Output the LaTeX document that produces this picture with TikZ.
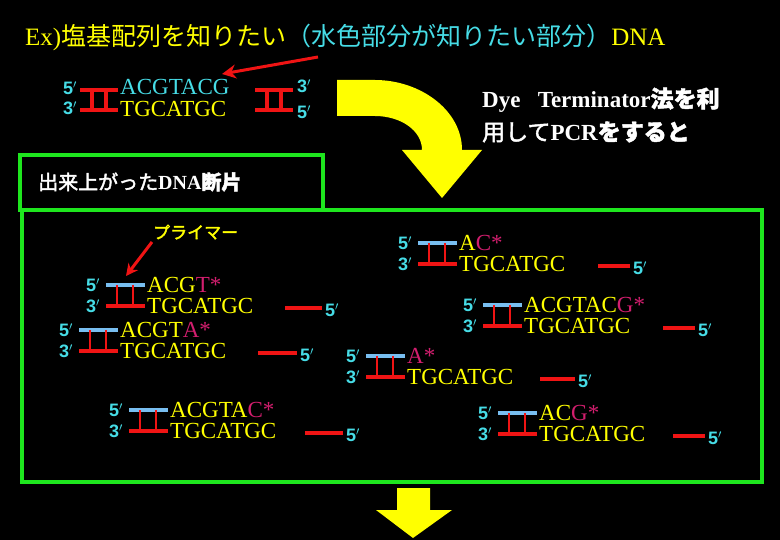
\documentclass[tikz,border=0pt]{standalone}
\usetikzlibrary{arrows.meta}
\usepackage{fontspec}
\setmainfont{Liberation Serif}
\newfontfamily\jp{Noto Sans CJK JP}
\newfontfamily\jpb[FakeBold=2]{Noto Sans CJK JP}
\newfontfamily\lsans{Liberation Sans}
\definecolor{cy}{RGB}{70,220,230}
\definecolor{ye}{RGB}{255,255,0}
\definecolor{rd}{RGB}{240,20,20}
\definecolor{mg}{RGB}{210,30,110}
\definecolor{lb}{RGB}{120,190,240}
\definecolor{gr}{RGB}{30,230,30}
\tikzset{
  prime/.style={text=cy,font=\lsans\bfseries\fontsize{18}{18}\selectfont,inner sep=0pt},
  seq/.style={text=ye,font=\fontsize{23}{23}\selectfont,inner sep=0pt,anchor=west},
  redl/.style={draw=rd,line width=4pt},
  bluel/.style={draw=lb,line width=4pt},
  gbox/.style={draw=gr,line width=4pt},
  jt/.style={font=\jp\fontsize{22}{22}\selectfont,inner sep=0pt,anchor=west},
}
\newcommand\frag[7]{%
\begin{scope}[shift={(#1,#2)}]
  \node[prime] (#7a) at (0,0) {5$'$};
  \node[prime] (#7b) at (0,21) {3$'$};
  \draw[bluel] (13,0) -- (52,0);
  \draw[redl] (13,21) -- (52,21);
  \draw[draw=rd,line width=2.5pt] (24,0) -- (24,21) (40,0) -- (40,21);
  \node[seq] (#7t) at (54,0) {#3\textcolor{mg}{#4*}};
  \node[seq] (#7u) at (54,21) {TGCATGC};
  \draw[redl] ({#5-#1},23) -- ({#6-#1},23);
  \node[prime] (#7c) at ({#6-#1+10},25) {5$'$};
\end{scope}}
\begin{document}
\begin{tikzpicture}[x=1pt,y=-1pt]
\fill[black] (0,0) rectangle (780,540);
\useasboundingbox (0,0) rectangle (780,540);
% title
\node[jt,text=ye] (title) at (25,37) {\fontsize{25}{25}\selectfont\rmfamily Ex)\jp 塩基配列を知りたい\textcolor{cy}{（水色部分が知りたい部分）}\rmfamily DNA};
% top DNA
\node[prime] (t5) at (70,88) {5$'$};
\node[prime] (t3) at (70,108) {3$'$};
\draw[redl] (80,90) -- (118,90) (80,110) -- (118,110) (92,90) -- (92,110) (106,90) -- (106,110);
\node[seq,text=cy] (tt) at (120,87) {ACGTACG};
\node[seq] (tb) at (120,109) {TGCATGC};
\draw[redl] (255,90) -- (293,90) (255,110) -- (293,110) (267,90) -- (267,110) (281,90) -- (281,110);
\node[prime] (r3) at (304,86) {3$'$};
\node[prime] (r5) at (304,112) {5$'$};
\coordinate (ar1) at (318,57);
\draw[rd,line width=3pt,-{Stealth[length=14pt,width=14pt]}] (ar1) -- (222,74);
% curved yellow arrow
\fill[ye] (337,80) -- (375,80) .. controls (420,80) and (462,110) .. (462,150) -- (482,150) -- (442,198) -- (402,150) -- (422,150) .. controls (422,130) and (400,116) .. (375,116) -- (337,116) -- cycle;
% Dye text
\node[jt,text=white,font=\jpb\fontsize{23}{23}\selectfont] (dye1) at (482,100) {\rmfamily\bfseries Dye\ \ \ Terminator\jpb 法を利};
\node[jt,text=white,font=\jpb\fontsize{23}{23}\selectfont] (dye2) at (482,132) {\jpb 用して\rmfamily\bfseries PCR\jpb をすると};
% boxes
\draw[gbox] (20,155) rectangle (323,210);
\node[jt,text=white,font=\jpb\fontsize{20}{20}\selectfont] (lab) at (38,182) {出来上がった\rmfamily\bfseries DNA\jpb 断片};
\draw[gbox] (22,210) rectangle (762,482);
% primer label
\node[jt,text=ye,font=\jpb\fontsize{17}{17}\selectfont] (pl) at (153,232) {プライマー};
\draw[rd,line width=3pt,-{Stealth[length=12pt,width=12pt]}] (152,242) -- (126,276);
% fragments
\frag{93}{285}{ACG}{T}{285}{322}{f1}
\frag{66}{330}{ACGT}{A}{258}{297}{f2}
\frag{116}{410}{ACGTA}{C}{305}{343}{f3}
\frag{405}{243}{A}{C}{598}{630}{f4}
\frag{470}{305}{ACGTAC}{G}{663}{695}{f5}
\frag{353}{356}{}{A}{540}{575}{f6}
\frag{485}{413}{AC}{G}{673}{705}{f7}
% bottom arrow
\fill[ye] (397,488) -- (430,488) -- (430,510) -- (452,510) -- (413,538) -- (376,510) -- (397,510) -- cycle;
\end{tikzpicture}
\end{document}
